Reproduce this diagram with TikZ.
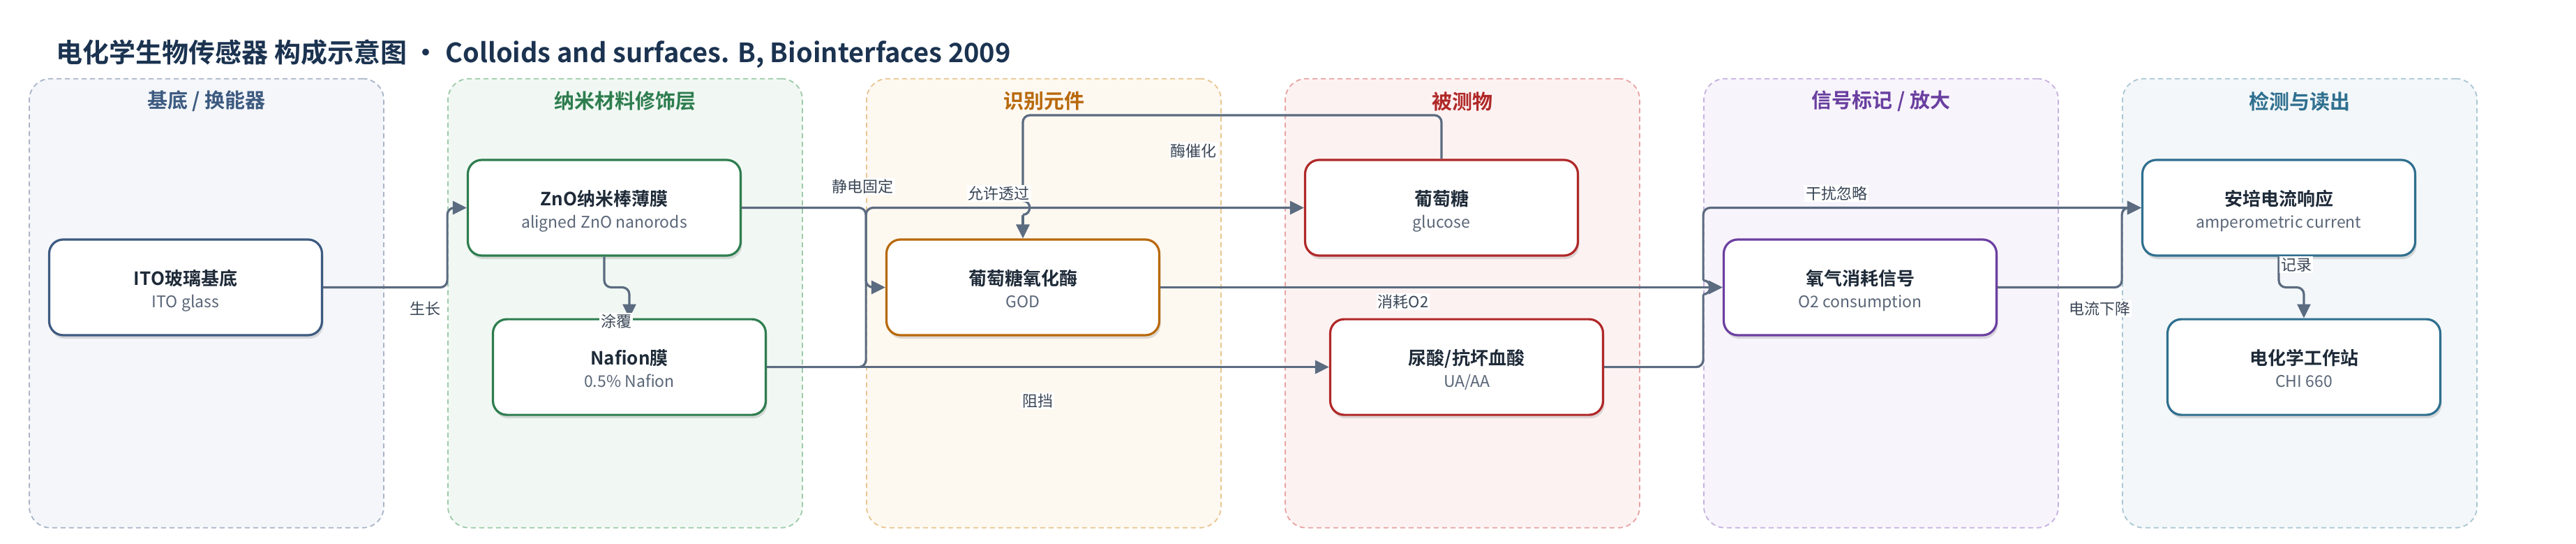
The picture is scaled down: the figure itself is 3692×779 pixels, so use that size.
\documentclass[tikz,border=0pt]{standalone}
\usepackage{fontspec}
\setmainfont{Noto Sans CJK SC}[BoldFont={Noto Sans CJK SC Bold}]
\usetikzlibrary{arrows.meta,calc,shadows}

\definecolor{ink}{HTML}{1E2A38}
\definecolor{headc}{HTML}{1B3350}
\definecolor{subc}{HTML}{5A6678}
\definecolor{lblc}{HTML}{3A4656}
\definecolor{edgec}{HTML}{5B6B80}
% lane colours: C = text/border, F = fill, D = dashed frame
\definecolor{baseC}{HTML}{3D5A80}\definecolor{baseF}{HTML}{F4F6FA}\definecolor{baseD}{HTML}{A9B5C7}
\definecolor{nanoC}{HTML}{2E7D4F}\definecolor{nanoF}{HTML}{F1F8F3}\definecolor{nanoD}{HTML}{9CCBA9}
\definecolor{recC}{HTML}{B8690C}\definecolor{recF}{HTML}{FDF8F0}\definecolor{recD}{HTML}{E9C591}
\definecolor{anaC}{HTML}{B02828}\definecolor{anaF}{HTML}{FDF2F2}\definecolor{anaD}{HTML}{E8A3A3}
\definecolor{sigC}{HTML}{6A3FA0}\definecolor{sigF}{HTML}{F7F4FB}\definecolor{sigD}{HTML}{C6B1E0}
\definecolor{detC}{HTML}{2F6F8F}\definecolor{detF}{HTML}{F3F7F9}\definecolor{detD}{HTML}{A9C7D3}

\tikzset{
  panel/.style={fill=#1F, draw=#1D, line width=1.8pt, dash pattern=on 7pt off 5pt,
    rounded corners=30pt, minimum width=508pt, minimum height=643pt},
  lanehead/.style={text=#1C, font=\fontsize{29}{34}\selectfont\bfseries},
  box/.style={draw=#1C, fill=white, line width=3.2pt, rounded corners=20pt,
    minimum width=391pt, minimum height=137pt,
    drop shadow={shadow xshift=2pt, shadow yshift=-5pt, opacity=0.12, fill=black}},
  ttl/.style={text=ink, font=\fontsize{26}{30}\selectfont\bfseries},
  sub/.style={text=subc, font=\fontsize{23}{27}\selectfont},
  lbl/.style={text=lblc, fill=white, inner sep=2pt, font=\fontsize{22}{26}\selectfont},
  wire/.style={draw=edgec, line width=3.2pt, rounded corners=10pt},
  flow/.style={wire, -{Triangle[length=20pt,width=19pt]}},
}

% box with a bold title and a grey subtitle
\newcommand{\stagebox}[5]{%
  \node[box=#3] (#1) at (#2) {};
  \node[ttl, anchor=base] (#1-t) at ([yshift=3pt]#1.center) {#4};
  \node[sub, anchor=base] (#1-s) at ([yshift=-28.5pt]#1.center) {#5};
}

\begin{document}
\begin{tikzpicture}[x=1pt, y=-1pt]

    \fill[white] (0,0) rectangle (3692,779);
    \useasboundingbox (0,0) rectangle (3692,779);

    \node[anchor=west, text=headc, font=\fontsize{38}{44}\selectfont\bfseries] (title) at (77,77)
      {电化学生物传感器 构成示意图 • Colloids and surfaces. B, Biointerfaces 2009};

    % Lanes
    \node[panel=base] (substrate) at (296,434.2) {};
    \node[panel=nano] (nanolayer) at (896,434.2) {};
    \node[panel=rec]  (recog)     at (1496,434.2) {};
    \node[panel=ana]  (analyte)   at (2096,434.2) {};
    \node[panel=sig]  (signal)    at (2696,434.2) {};
    \node[panel=det]  (readout)   at (3296,434.2) {};

    \node[lanehead=base] (substrate-h) at (296,145)  {基底 / 换能器};
    \node[lanehead=nano] (nanolayer-h) at (896,145)  {纳米材料修饰层};
    \node[lanehead=rec]  (recog-h)     at (1496,145) {识别元件};
    \node[lanehead=ana]  (analyte-h)   at (2096,145) {被测物};
    \node[lanehead=sig]  (signal-h)    at (2696,145) {信号标记 / 放大};
    \node[lanehead=det]  (readout-h)   at (3296,145) {检测与读出};

    \coordinate (top) at (0,165);

    % Stages
    \stagebox{ito}{266,411.5}{base}{ITO玻璃基底}{ITO glass}
    \stagebox{zno}{866,297.5}{nano}{ZnO纳米棒薄膜}{aligned ZnO nanorods}
    \stagebox{nafion}{902,525.6}{nano}{Nafion膜}{0.5\% Nafion}
    \stagebox{god}{1466,411.5}{rec}{葡萄糖氧化酶}{GOD}
    \stagebox{glucose}{2066,297.5}{ana}{葡萄糖}{glucose}
    \stagebox{ua}{2102,525.6}{ana}{尿酸/抗坏血酸}{UA/AA}
    \stagebox{o2}{2666,411.5}{sig}{氧气消耗信号}{O2 consumption}
    \stagebox{amp}{3266,297.5}{det}{安培电流响应}{amperometric current}
    \stagebox{chi}{3302,525.6}{det}{电化学工作站}{CHI 660}

    % Connections
    \draw[flow] (ito.east) -| (nanolayer.west |- zno.west) -- (zno.west);
    \draw[flow] (zno.south) -- (zno.south |- ito.east) -| (nafion.north);
    \draw[flow] (zno.east) -| (recog.west |- god.west) -- (god.west);
    \draw[flow] (nafion.east) -| (recog.west |- glucose.west) -- (glucose.west);
    \draw[flow] (nafion.east) -- (ua.west);
    \draw[wire] (glucose.north) |- (god.north |- top) -- ($(god.north |- zno.east)+(0,-10)$);
    \draw[wire] ($(god.north |- zno.east)+(0,-10)$) .. controls +(13,0) and +(13,0) .. ($(god.north |- zno.east)+(0,10)$);
    \draw[flow] ($(god.north |- zno.east)+(0,10)$) -- (god.north);
    \draw[flow] (god.east) -- (o2.west);
    \draw[wire] (ua.east) -| ($(signal.west |- god.east)+(0,10)$);
    \draw[wire] ($(signal.west |- god.east)+(0,10)$) .. controls +(13,0) and +(13,0) .. ($(signal.west |- god.east)+(0,-10)$);
    \draw[flow] ($(signal.west |- god.east)+(0,-10)$) |- (amp.west);
    \draw[flow] (o2.east) -| (readout.west |- amp.west) -- (amp.west);
    \draw[flow] (amp.south) -- (amp.south |- o2.east) -| (chi.north);

    % Edge labels
    \node[lbl] (l-grow)   at (609,442)    {生长};
    \node[lbl] (l-coat)   at (883,460.5)  {涂覆};
    \node[lbl] (l-fix)    at (1236.5,267) {静电固定};
    \node[lbl] (l-pass)   at (1431.5,277) {允许透过};
    \node[lbl] (l-cat)    at (1710.5,216) {酶催化};
    \node[lbl] (l-block)  at (1487,574)   {阻挡};
    \node[lbl] (l-o2)     at (2011,432)   {消耗O2};
    \node[lbl] (l-ignore) at (2632,277)   {干扰忽略};
    \node[lbl] (l-drop)   at (3009,442)   {电流下降};
    \node[lbl] (l-rec)    at (3291,379)   {记录};

\end{tikzpicture}
\end{document}
